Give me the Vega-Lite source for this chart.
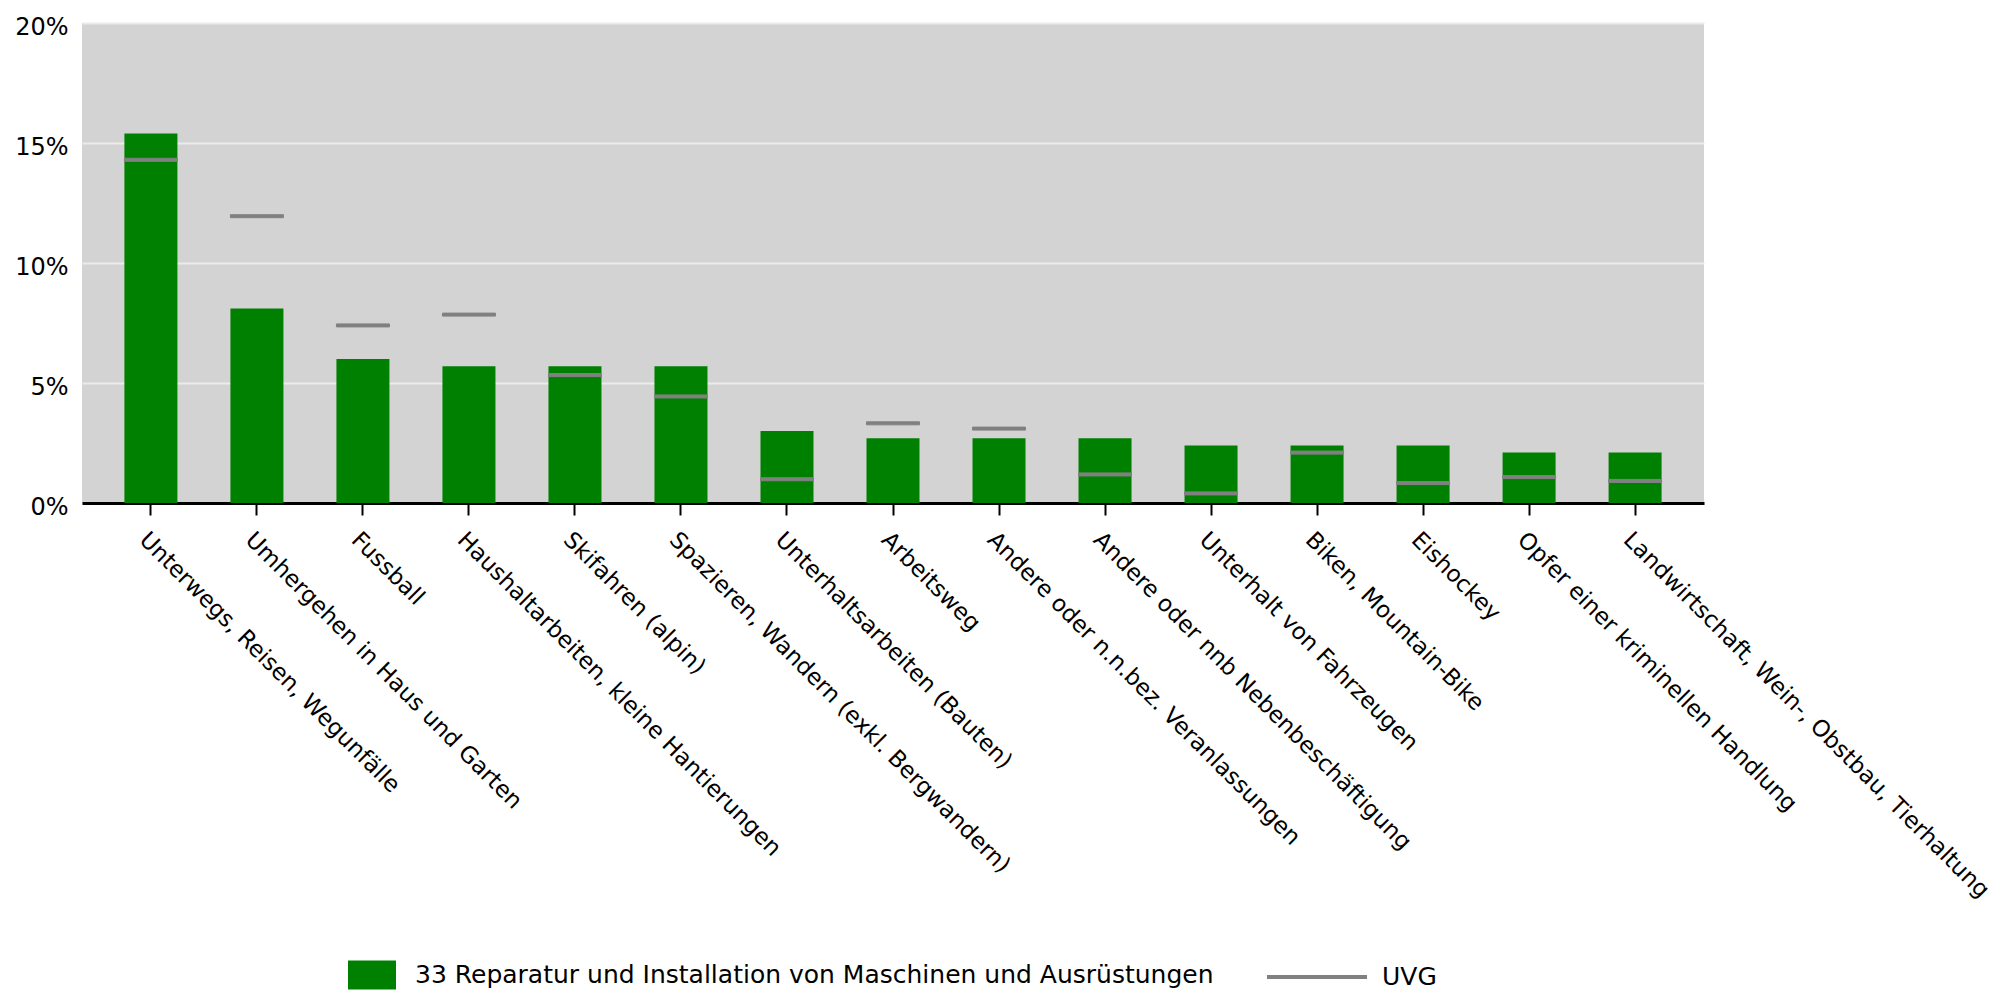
{
  "$schema": "https://vega.github.io/schema/vega-lite/v6.json",
  "width": 1622,
  "height": 480,
  "autosize": {"type": "none"},
  "padding": {"left": 82, "top": 23, "right": 297, "bottom": 489},
  "background": "white",
  "config": {
    "font": "DejaVu Sans",
    "view": {"fill": "#d3d3d3", "stroke": null},
    "axisY": {"domain": false, "ticks": false, "grid": true, "gridColor": "#ebebeb", "gridWidth": 2, "labelFontSize": 24, "labelColor": "black", "labelPadding": 14, "labelOffset": 4},
    "axisX": {"domain": true, "domainColor": "black", "domainWidth": 3, "ticks": true, "tickColor": "black", "tickWidth": 2, "tickSize": 12, "labelAngle": 45, "labelFontSize": 23, "labelColor": "black", "grid": false, "labelPadding": 13, "labelLimit": 0, "labelOverlap": false},
    "legend": {"labelFontSize": 25, "labelColor": "black", "labelFont": "DejaVu Sans", "padding": 0, "labelLimit": 0}
  },
  "data": {
    "values": [
      {"cat": "Unterwegs, Reisen, Wegunfälle", "value": 15.4, "uvg": 14.3},
      {"cat": "Umhergehen in Haus und Garten", "value": 8.1, "uvg": 11.95},
      {"cat": "Fussball", "value": 6.0, "uvg": 7.4},
      {"cat": "Haushaltarbeiten, kleine Hantierungen", "value": 5.7, "uvg": 7.85},
      {"cat": "Skifahren (alpin)", "value": 5.7, "uvg": 5.33},
      {"cat": "Spazieren, Wandern (exkl. Bergwandern)", "value": 5.7, "uvg": 4.44},
      {"cat": "Unterhaltsarbeiten (Bauten)", "value": 3.0, "uvg": 0.99},
      {"cat": "Arbeitsweg", "value": 2.7, "uvg": 3.32},
      {"cat": "Andere oder n.n.bez. Veranlassungen", "value": 2.7, "uvg": 3.1},
      {"cat": "Andere oder nnb Nebenbeschäftigung", "value": 2.7, "uvg": 1.19},
      {"cat": "Unterhalt von Fahrzeugen", "value": 2.4, "uvg": 0.4},
      {"cat": "Biken, Mountain-Bike", "value": 2.4, "uvg": 2.1},
      {"cat": "Eishockey", "value": 2.4, "uvg": 0.83},
      {"cat": "Opfer einer kriminellen Handlung", "value": 2.1, "uvg": 1.08},
      {"cat": "Landwirtschaft, Wein-, Obstbau, Tierhaltung", "value": 2.1, "uvg": 0.92}
    ]
  },
  "encoding": {
    "x": {"field": "cat", "type": "nominal", "sort": null, "title": null,
      "scale": {"paddingInner": 0.5, "paddingOuter": 0.4}}
  },
  "layer": [
    {
      "mark": {"type": "bar", "color": "#008000"},
      "encoding": {
        "y": {"field": "value", "type": "quantitative", "title": null,
          "scale": {"domain": [0, 20]},
          "axis": {"values": [0, 5, 10, 15, 20], "labelExpr": "datum.value + '%'"}},
        "fill": {"datum": "33 Reparatur und Installation von Maschinen und Ausrüstungen",
          "scale": {"range": ["#008000"]},
          "legend": {"orient": "none", "legendX": 266, "legendY": 928, "title": null,
            "symbolType": "M-1,-0.6H1V0.6H-1Z", "symbolSize": 2304, "symbolStrokeWidth": 0, "labelOffset": 19}}
      }
    },
    {
      "mark": {"type": "tick", "thickness": 3, "size": 53, "color": "#808080", "opacity": 1},
      "encoding": {
        "y": {"field": "uvg", "type": "quantitative", "title": null},
        "stroke": {"datum": "UVG",
          "scale": {"range": ["#808080"]},
          "legend": {"orient": "none", "legendX": 1183, "legendY": 902, "title": null,
            "symbolType": "stroke", "symbolSize": 10000, "symbolStrokeWidth": 4, "labelOffset": 13}}
      }
    }
  ]
}
